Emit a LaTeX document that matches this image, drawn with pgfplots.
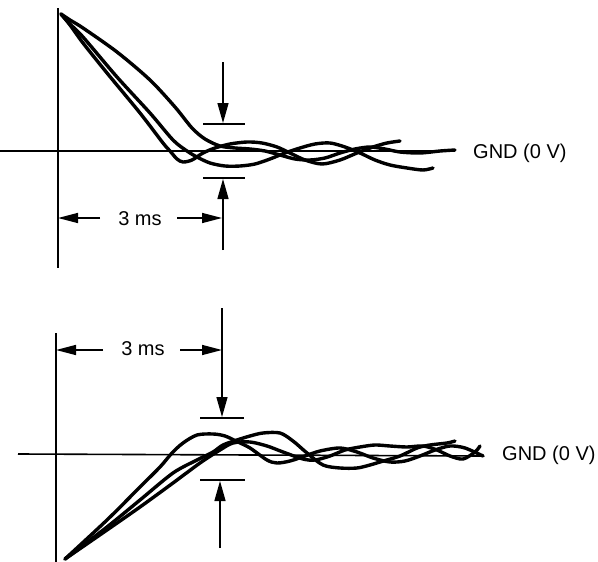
\documentclass[border=0pt]{standalone}
\usepackage{pgfplots}
\pgfplotsset{compat=1.18}
\usepackage{fontspec}
\setmainfont{Liberation Sans}
\usetikzlibrary{arrows.meta}
\begin{document}
\begin{tikzpicture}
\begin{axis}[
  scale only axis, width=598pt, height=562pt,
  xmin=0, xmax=598, ymin=0, ymax=562, y dir=reverse,
  axis lines=none, clip=false,
  wave/.style={black, line width=3.4pt, smooth, tension=0.5, line join=round, line cap=round},
]
% reference lines
\addplot[black, line width=1.6pt] coordinates {(58,8) (58,268)};
\addplot[black, line width=1.6pt] coordinates {(0,151) (455,151)};
\addplot[black, line width=1.6pt] coordinates {(56,333) (56,562)};
\addplot[black, line width=1.6pt] coordinates {(18,454) (484,456)};
% top waveforms
\addplot[wave] coordinates {
(61,14) (70,25) (83,43) (107,73) (140,113) (163,143) (170,151) (177,159) (183,162) (192,160) (203,153) (215,148) (230,144) (247,142) (262,143) (277,147) (290,153) (305,160) (322,164) (340,160) (357,153) (373,147) (387,143) (400,141)};
\addplot[wave] coordinates {
(61,14) (70,24) (83,37) (117,77) (150,113) (173,140) (187,151) (197,157) (210,163) (225,166) (240,166) (255,164) (270,159) (285,153) (300,148) (315,144) (330,143) (345,147) (360,153) (375,160) (390,165) (407,168) (423,170) (433,168)};
\addplot[wave] coordinates {
(61,14) (70,20) (83,28) (117,52) (150,80) (175,107) (192,128) (205,139) (220,146) (235,148) (250,149) (265,151) (280,155) (295,159) (310,160) (325,158) (340,153) (355,149) (370,147) (385,149) (400,152) (420,153) (440,151) (455,150)};
% bottom waveforms
\addplot[wave] coordinates {
(65,559) (107,520) (140,487) (160,467) (172,453) (183,443) (197,435) (213,434) (225,436) (238,442) (250,448) (267,460) (277,463) (290,461) (305,456) (320,451) (340,448) (357,452) (373,458) (390,462) (405,461) (420,456) (435,450) (450,446) (465,448) (483,456)};
\addplot[wave] coordinates {
(65,559) (107,527) (140,500) (173,473) (197,460) (213,452) (223,445) (237,440) (250,436) (263,433) (280,433) (293,441) (307,453) (323,465) (340,468) (357,468) (370,465) (380,462) (400,456) (417,448) (430,445) (447,443) (455,441)};
\addplot[wave] coordinates {
(65,559) (107,530) (140,507) (173,483) (200,463) (220,450) (233,443) (250,442) (267,446) (283,452) (303,459) (315,460) (330,456) (345,450) (360,447) (375,445) (390,446) (407,447) (423,446) (437,450) (450,456) (463,459) (475,452) (480,446)};
% annotations top
\draw[line width=1.5pt, -{Triangle[length=20pt,width=11pt]}] (axis cs:223,62) -- (axis cs:223,123);
\draw[line width=2pt] (axis cs:203,124) -- (axis cs:245,124);
\draw[line width=2pt] (axis cs:203,178) -- (axis cs:245,178);
\draw[line width=1.5pt, -{Triangle[length=20pt,width=11pt]}] (axis cs:223,250) -- (axis cs:223,179);
\draw[line width=1.5pt, -{Triangle[length=20pt,width=10pt]}] (axis cs:100,218) -- (axis cs:58,218);
\draw[line width=1.5pt, -{Triangle[length=20pt,width=10pt]}] (axis cs:177,218) -- (axis cs:222,218);
\node[font=\fontsize{20}{22}\selectfont] at (axis cs:140,219) {3 ms};
\node[anchor=west, font=\fontsize{20}{22}\selectfont, inner sep=0pt] at (axis cs:473,153) {GND (0 V)};
% annotations bottom
\draw[line width=1.5pt, -{Triangle[length=20pt,width=11pt]}] (axis cs:222,308) -- (axis cs:222,417);
\draw[line width=2pt] (axis cs:200,418) -- (axis cs:244,418);
\draw[line width=2pt] (axis cs:200,480) -- (axis cs:245,480);
\draw[line width=1.5pt, -{Triangle[length=20pt,width=11pt]}] (axis cs:220,548) -- (axis cs:220,481);
\draw[line width=1.5pt, -{Triangle[length=20pt,width=10pt]}] (axis cs:103,350) -- (axis cs:56,350);
\draw[line width=1.5pt, -{Triangle[length=20pt,width=10pt]}] (axis cs:180,350) -- (axis cs:222,350);
\node[font=\fontsize{20}{22}\selectfont] at (axis cs:143,349) {3 ms};
\node[anchor=west, font=\fontsize{20}{22}\selectfont, inner sep=0pt] at (axis cs:502,455) {GND (0 V)};
\end{axis}
\pgfresetboundingbox
\useasboundingbox (current axis.south west) rectangle (current axis.north east);
\end{tikzpicture}
\end{document}
